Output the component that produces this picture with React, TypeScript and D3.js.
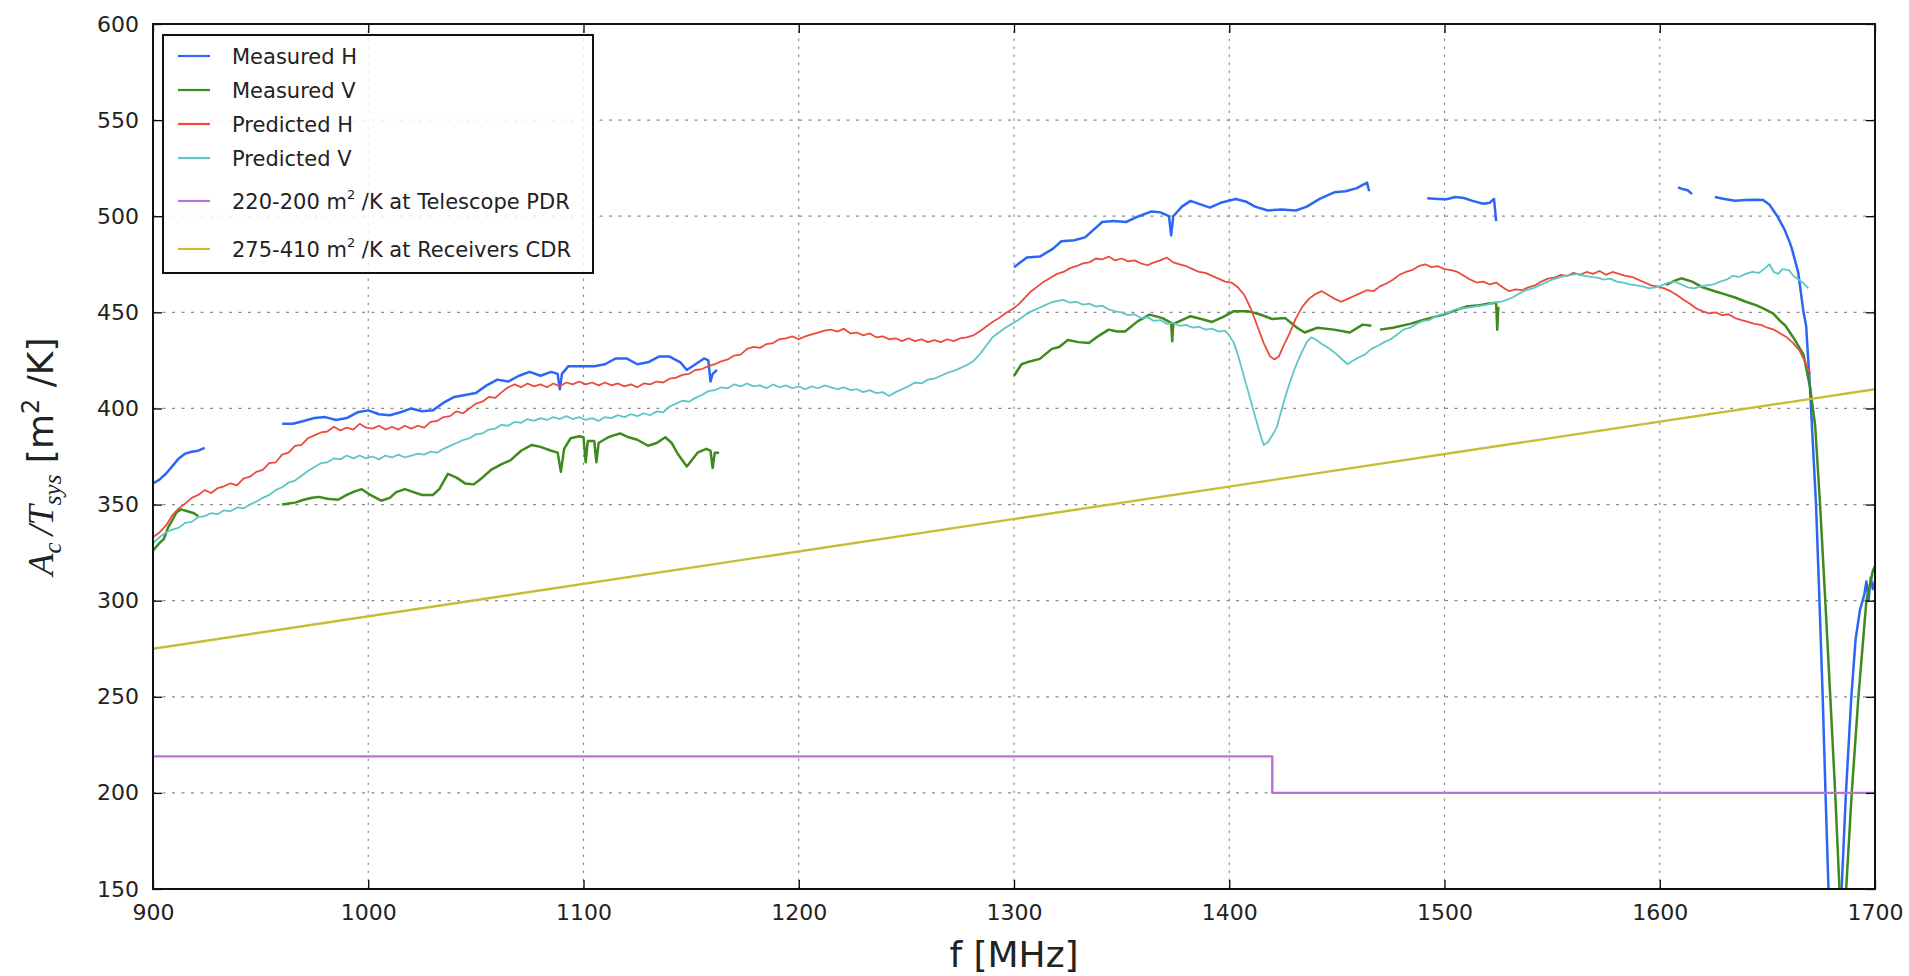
import React, { useEffect, useRef } from 'react';
import * as d3 from 'd3';

// tick values
const xTicks = [900, 1000, 1100, 1200, 1300, 1400, 1500, 1600, 1700];
const yTicks = [150, 200, 250, 300, 350, 400, 450, 500, 550, 600];

const measuredH = [
  [[900, 361], [903, 363], [906, 366], [909, 370], [912, 374], [915, 376.5], [918, 377.5], [921, 378], [924, 379.5]],
  [[960, 392], [965, 392], [970, 393.5], [975, 395], [980, 395.5], [985, 394], [990, 395], [995, 398], [1000, 399], [1005, 397],
   [1010, 396.5], [1015, 398], [1020, 400], [1025, 398.5], [1030, 399], [1035, 403], [1040, 406], [1045, 407], [1050, 408],
   [1055, 412], [1060, 415], [1065, 414], [1070, 417], [1075, 419], [1080, 417], [1085, 419], [1088, 418], [1089, 410],
   [1090, 418], [1093, 422], [1100, 422], [1105, 422], [1110, 423], [1115, 426], [1120, 426], [1125, 423], [1130, 424],
   [1135, 427], [1140, 427], [1145, 424], [1148, 420], [1152, 423], [1156, 426], [1158, 425], [1159, 414], [1160, 418], [1162, 420]],
  [[1300, 473.5], [1306, 478.5], [1312, 479], [1318, 483], [1322, 487], [1328, 487.5], [1333, 489], [1341, 497], [1346, 497.5],
   [1352, 497], [1358, 500], [1364, 502.5], [1368, 502], [1372, 500], [1373, 490], [1374, 500], [1378, 505], [1382, 508],
   [1387, 506], [1391, 504.5], [1396, 507], [1403, 509], [1408, 507.5], [1412, 505], [1418, 503], [1424, 503.5], [1431, 503],
   [1436, 505], [1442, 509], [1449, 512.5], [1454, 513], [1459, 514.5], [1464, 517.5], [1465, 513]],
  [[1492, 509.3], [1497, 509], [1501, 508.8], [1505, 510], [1509, 509.5], [1513, 508], [1518, 506.5], [1521, 507], [1523, 509], [1524, 497.5]],
  [[1608.5, 515], [1611, 514], [1613, 513.5], [1615, 511.5]],
  [[1625.6, 510], [1630, 509], [1635, 508], [1640, 508.5], [1645, 508.6], [1648, 508.5], [1651, 506], [1654.6, 500], [1658, 493],
   [1660.4, 486.4], [1661.4, 483], [1664.3, 470.9], [1666.8, 450], [1668, 443], [1669.8, 410.6], [1672.6, 350], [1674.2, 300],
   [1675.7, 250], [1677, 200], [1678.4, 150], [1681.5, 100], [1684.5, 150], [1686.5, 200], [1689, 250], [1691, 280], [1693, 295],
   [1695, 303], [1696, 310], [1697, 300], [1698, 312], [1699, 306], [1700, 310]]
];

// Measured V
const measuredV = [
  [[900, 326], [903, 330], [905, 332], [907, 338], [909, 342], [911, 346], [913, 347.5], [916, 346.5], [919, 345.5], [921, 344]],
  [[960, 350], [963, 350.5], [966, 351], [970, 352.5], [974, 353.5], [977, 354], [981, 353], [986, 352.5], [990, 355], [994, 357],
   [997, 358], [1001, 355], [1006, 352], [1010, 353.5], [1013, 356.5], [1017, 358], [1021, 356.5], [1025, 355], [1030, 355],
   [1033, 358], [1037, 366], [1041, 364], [1045, 361], [1049, 360.5], [1053, 364], [1057, 368], [1062, 371], [1066, 373],
   [1071, 378], [1076, 381], [1080, 380], [1085, 378], [1088, 377], [1089.5, 367], [1091, 379], [1094, 384.5], [1098, 385.5],
   [1100, 385], [1101, 372], [1102, 383], [1105, 383], [1106, 372], [1107, 382], [1111.5, 385], [1114, 386], [1117, 387],
   [1121, 385], [1125, 383.7], [1130, 380.6], [1134, 382], [1138, 385], [1141, 382], [1144, 376], [1148, 369.8], [1153, 377],
   [1157, 379], [1159, 378], [1160, 369], [1161, 377], [1163, 377]],
  [[1300, 417], [1303.5, 423], [1306, 424], [1312, 425.8], [1317.6, 431], [1321, 432], [1325, 435.6], [1330, 434.5], [1334.8, 434],
   [1339, 437.5], [1344, 441], [1348, 440], [1351.6, 440], [1357.4, 445.3], [1363, 448.8], [1369, 447], [1373, 444.5],
   [1373.5, 435], [1374, 444], [1378, 446], [1382, 448], [1387, 446.5], [1392, 445], [1397, 447.5], [1402, 450.5], [1409, 450.5],
   [1414, 449], [1420, 446.5], [1426, 447], [1431.5, 442], [1435, 439.5], [1441, 442], [1448.6, 441], [1456, 439.5], [1462, 443.6], [1466, 443]],
  [[1470, 441], [1476, 442], [1484, 444], [1490, 446], [1495, 447.5], [1500, 449], [1505, 451], [1510, 453], [1515, 453.5], [1520, 454.5],
   [1524, 455], [1524.5, 441], [1525, 453]],
  [[1603, 464.3], [1607, 466.5], [1610, 467.7], [1615, 466], [1620, 463], [1625.6, 461], [1630, 459.5], [1635, 457.7], [1640, 455.5],
   [1645, 453.6], [1648, 452], [1652.6, 449.5], [1655.9, 445.6], [1658.4, 443], [1662.1, 436.8], [1666.8, 428], [1669.9, 410.6],
   [1672.2, 391], [1674.5, 349.7], [1676.9, 300], [1679.2, 250.6], [1681.5, 200], [1683.5, 150], [1685, 110], [1686.6, 150],
   [1689.2, 200], [1692.3, 250], [1696, 300], [1698, 310], [1699, 315.6], [1700, 318]]
];

// Predicted H
const predictedH = [[
  [900, 333], [903, 335.5], [906, 339], [909, 344.5], [912, 348], [915, 350.5], [918, 353.5], [921, 355], [924, 357.5], [927, 356],
  [930, 358.5], [933, 359.5], [936, 361], [939, 360], [942, 363.5], [945, 364.5], [948, 367], [951, 368], [954, 371.5], [957, 372],
  [960, 376], [963, 377], [966, 380.5], [969, 381], [972, 384.5], [975, 386], [978, 387.5], [981, 388], [984, 390.5], [987, 388.5],
  [990, 390], [993, 389], [996, 392], [999, 390], [1002, 389.5], [1005, 391], [1008, 389], [1011, 390.5], [1014, 389], [1017, 391],
  [1020, 389.5], [1023, 391], [1026, 390], [1029, 393], [1032, 393.5], [1035, 395.5], [1038, 396], [1041, 398.5], [1044, 397.5],
  [1047, 400], [1050, 402.5], [1053, 403.5], [1056, 406], [1059, 405.5], [1062, 408.5], [1065, 411], [1068, 412.5], [1071, 411],
  [1074, 413], [1077, 411.5], [1080, 412.5], [1083, 411], [1086, 413], [1089, 411.5], [1092, 413.5], [1095, 412.5], [1098, 414],
  [1101, 412.5], [1104, 413.5], [1107, 412], [1110, 413.5], [1113, 412], [1116, 413], [1119, 411.5], [1122, 412.5], [1125, 411],
  [1128, 413], [1131, 412.5], [1134, 414], [1137, 413.5], [1140, 415.5], [1143, 416], [1146, 417.5], [1149, 418], [1152, 420],
  [1155, 420.5], [1158, 422], [1161, 423], [1164, 424.5], [1167, 425.5], [1170, 427.5], [1173, 428], [1176, 431], [1179, 432],
  [1182, 431.5], [1185, 433.5], [1188, 434], [1191, 436], [1194, 436.5], [1197, 437.5], [1200, 436], [1203, 437.5], [1206, 438.5],
  [1209, 439.5], [1212, 440.5], [1215, 441], [1218, 440], [1221, 441.5], [1224, 439], [1227, 439.5], [1230, 438], [1233, 439],
  [1236, 437], [1239, 437.5], [1242, 436], [1245, 436.5], [1248, 435], [1251, 436.5], [1254, 435], [1257, 436], [1260, 434.5],
  [1263, 435.5], [1266, 434.5], [1269, 436], [1272, 435], [1275, 436.5], [1278, 437], [1281, 438], [1284, 440], [1287, 442.5],
  [1290, 445], [1293, 447], [1296, 449.5], [1299, 451.5], [1302, 454], [1305, 457.5], [1308, 461], [1311, 463.5], [1314, 466],
  [1317, 468], [1320, 470], [1323, 471], [1326, 473], [1329, 474], [1332, 475.5], [1335, 476], [1338, 478], [1341, 477.5],
  [1344, 479], [1347, 477], [1350, 478], [1353, 476.5], [1356, 477], [1359, 475.5], [1362, 474.5], [1365, 476], [1368, 477],
  [1371, 478.5], [1374, 476], [1377, 475], [1380, 474], [1383, 472.5], [1386, 471], [1389, 470.5], [1392, 469], [1395, 467.5],
  [1398, 466], [1401, 465.5], [1404, 463], [1407, 459], [1410, 452], [1413, 443], [1416, 434], [1419, 427], [1421, 425.5],
  [1423, 427], [1425, 432], [1428, 439], [1431, 447], [1434, 453], [1437, 457], [1440, 459.5], [1443, 461], [1446, 459],
  [1449, 457], [1452, 455.5], [1455, 457], [1458, 458.5], [1461, 460], [1464, 461.5], [1467, 461], [1470, 463.5], [1473, 465],
  [1476, 467], [1479, 469.5], [1482, 471], [1485, 472], [1488, 474], [1491, 475], [1494, 473.5], [1497, 474], [1500, 472.5],
  [1503, 472], [1506, 471], [1509, 469], [1512, 467], [1515, 465.5], [1518, 466], [1521, 464.5], [1524, 465.5], [1527, 463],
  [1530, 461], [1533, 462], [1536, 461.5], [1539, 463], [1542, 464], [1545, 466], [1548, 467.5], [1551, 468], [1554, 469.5],
  [1557, 469], [1560, 470.5], [1563, 469.5], [1566, 471], [1569, 470], [1572, 471.5], [1575, 469.5], [1578, 471], [1581, 470],
  [1584, 469], [1587, 468.5], [1590, 467], [1593, 465.5], [1596, 464], [1599, 463.5], [1602, 462.5], [1605, 461], [1608, 459],
  [1611, 456.5], [1614, 454.5], [1617, 452], [1620, 450.5], [1623, 449.5], [1626, 450], [1629, 448.5], [1632, 449], [1635, 447],
  [1638, 446], [1641, 445], [1644, 444], [1647, 443.5], [1650, 442], [1653, 441], [1656, 439], [1659, 437], [1662, 434],
  [1665, 430], [1668, 423], [1670, 418]
]];

// Predicted V
const predictedV = [[
  [900, 330], [903, 333], [906, 335.5], [909, 337], [912, 338], [915, 340.5], [918, 341], [921, 343.5], [924, 344], [927, 345.5],
  [930, 345], [933, 347], [936, 346.5], [939, 348.5], [942, 348], [945, 350], [948, 351.5], [951, 353.5], [954, 355], [957, 357.5],
  [960, 359], [963, 361.5], [966, 362.5], [969, 365], [972, 367.5], [975, 369.5], [978, 371.5], [981, 372], [984, 374], [987, 373.5],
  [990, 375.5], [993, 374], [996, 375.5], [999, 374], [1002, 375], [1005, 373.5], [1008, 375.5], [1011, 374.5], [1014, 376],
  [1017, 374.5], [1020, 375.5], [1023, 376.5], [1026, 376], [1029, 377.5], [1032, 377], [1035, 379], [1038, 380.5], [1041, 382],
  [1044, 383.5], [1047, 384.5], [1050, 386.5], [1053, 387], [1056, 389], [1059, 389.5], [1062, 391.5], [1065, 391], [1068, 393],
  [1071, 392.5], [1074, 394.5], [1077, 393.5], [1080, 395], [1083, 394], [1086, 395.5], [1089, 394.5], [1092, 396], [1095, 394.5],
  [1098, 395.5], [1101, 394], [1104, 395], [1107, 393.5], [1110, 395.5], [1113, 395], [1116, 396.5], [1119, 395.5], [1122, 397],
  [1125, 396], [1128, 397.5], [1131, 396.5], [1134, 398.5], [1137, 398], [1140, 401], [1143, 402.5], [1146, 404], [1149, 403.5],
  [1152, 405.5], [1155, 407], [1158, 409], [1161, 409.5], [1164, 411], [1167, 410.5], [1170, 412.5], [1173, 411.5], [1176, 413],
  [1179, 411.5], [1182, 412], [1185, 410.5], [1188, 412.5], [1191, 411], [1194, 412], [1197, 410.5], [1200, 411.5], [1203, 410],
  [1206, 411.5], [1209, 410.5], [1212, 412], [1215, 411], [1218, 410], [1221, 411], [1224, 409.5], [1227, 410], [1230, 408.5],
  [1233, 409.5], [1236, 408], [1239, 408.5], [1242, 406.5], [1245, 408.5], [1248, 410], [1251, 411.5], [1254, 413.5], [1257, 413],
  [1260, 415], [1263, 415.5], [1266, 417], [1269, 418.5], [1272, 419.5], [1275, 421], [1278, 422.5], [1281, 424.5], [1284, 428],
  [1287, 432.5], [1290, 437], [1293, 439.5], [1296, 442], [1299, 444], [1302, 446], [1305, 448.5], [1308, 450.5], [1311, 452],
  [1314, 453.5], [1317, 455], [1320, 456], [1323, 456.5], [1326, 455], [1329, 455.5], [1332, 454], [1335, 454.5], [1338, 453],
  [1341, 453.5], [1344, 451.5], [1347, 450.5], [1350, 450], [1353, 448.5], [1356, 449], [1359, 447], [1362, 447.5], [1365, 445.5],
  [1368, 446], [1371, 444], [1374, 444.5], [1377, 443], [1380, 443.5], [1383, 442], [1386, 442.5], [1389, 441], [1392, 441.5],
  [1395, 440], [1398, 440.5], [1400, 438], [1402, 434.5], [1404, 428], [1406, 420], [1408, 412], [1410, 404], [1412, 396],
  [1414, 388], [1416, 381], [1418, 382.5], [1420, 386], [1422, 390], [1424, 398], [1426, 406], [1428, 413], [1430, 419.5],
  [1432, 425], [1434, 430], [1436, 434.5], [1438, 437], [1440, 436], [1443, 433.5], [1446, 431.5], [1449, 429], [1452, 426],
  [1455, 423], [1457, 424.5], [1460, 426.5], [1463, 428], [1466, 431], [1469, 432.5], [1472, 434.5], [1475, 436], [1478, 438.5],
  [1481, 441], [1484, 442], [1487, 444], [1490, 445.5], [1493, 446], [1496, 448], [1499, 449], [1502, 450], [1505, 451.5],
  [1508, 452], [1511, 452.5], [1514, 453], [1517, 453.5], [1520, 454], [1523, 455], [1526, 455.5], [1529, 456.5], [1532, 458],
  [1535, 460], [1538, 461.5], [1541, 462.5], [1544, 464], [1547, 465.5], [1550, 467], [1553, 468], [1556, 469], [1559, 469.5],
  [1562, 470], [1565, 469], [1568, 468.5], [1571, 468], [1574, 467], [1577, 467.5], [1580, 466], [1583, 465.5], [1586, 464.5],
  [1589, 464], [1592, 463.5], [1595, 462.5], [1598, 463], [1601, 464], [1604, 465.5], [1607, 466], [1610, 464.5], [1613, 463],
  [1616, 462.5], [1619, 463.5], [1622, 464], [1625, 464.5], [1628, 466], [1631, 467], [1634, 469], [1637, 468.5], [1640, 470],
  [1643, 471], [1646, 470.5], [1649, 473], [1651, 475], [1653, 471], [1655, 470], [1657, 472.5], [1660, 472], [1662, 469],
  [1664, 467.5], [1667, 465], [1669, 462.5]
]];

// requirement lines
const telescopePDR = [[[900, 219], [1420, 219], [1420, 200], [1700, 200]]];
const receiversCDR = [[[900, 275], [1700, 410]]];

const series = [
  { label: 'Measured H', color: '#2b66f6', width: 2.5, data: measuredH },
  { label: 'Measured V', color: '#3f8a1d', width: 2.5, data: measuredV },
  { label: 'Predicted H', color: '#ea4b3f', width: 1.8, data: predictedH },
  { label: 'Predicted V', color: '#5ec6c6', width: 1.8, data: predictedV },
  { label: ['220-200 m', '2', ' /K at Telescope PDR'], color: '#bd6fd8', width: 2.4, data: telescopePDR },
  { label: ['275-410 m', '2', ' /K at Receivers CDR'], color: '#c6bd36', width: 2.4, data: receiversCDR },
];

export default function App() {
  const chartRef = useRef<SVGSVGElement>(null);

  useEffect(() => {
    const svg = d3.select(chartRef.current);
    svg.selectAll('*').remove();

    const margin = { top: 24, right: 34, bottom: 87, left: 153 };
    const W = 1909, H = 976;
    const x = d3.scaleLinear().domain([900, 1700]).range([margin.left, W - margin.right]);
    const y = d3.scaleLinear().domain([150, 600]).range([H - margin.bottom, margin.top]);
    const font = 'DejaVu Sans, Verdana, sans-serif';

    svg.append('rect').attr('width', W).attr('height', H).attr('fill', '#fff');

    // grid
    const grid = svg.append('g').attr('stroke', '#8c8c8c').attr('stroke-width', 1.2);
    grid.selectAll('line.v').data(xTicks).join('line')
      .attr('x1', d => x(d)).attr('x2', d => x(d))
      .attr('y1', y(150)).attr('y2', y(600))
      .attr('stroke-dasharray', '2.5 5.5');
    grid.selectAll('line.h').data(yTicks).join('line')
      .attr('x1', x(900)).attr('x2', x(1700))
      .attr('y1', d => y(d)).attr('y2', d => y(d))
      .attr('stroke-dasharray', '3 6.5');

    // lines
    svg.append('clipPath').attr('id', 'plotclip')
      .append('rect')
      .attr('x', x(900)).attr('y', y(600))
      .attr('width', x(1700) - x(900)).attr('height', y(150) - y(600));

    const line = d3.line<number[]>().x(d => x(d[0])).y(d => y(d[1]));
    const plot = svg.append('g').attr('clip-path', 'url(#plotclip)');
    series.forEach(s => {
      s.data.forEach(seg => {
        plot.append('path')
          .datum(seg)
          .attr('fill', 'none')
          .attr('stroke', s.color)
          .attr('stroke-width', s.width)
          .attr('stroke-linejoin', 'round')
          .attr('d', line);
      });
    });

    // axes, ticks pointing inwards like the classic matplotlib style
    const styleAxis = (g: any) => {
      g.select('.domain').remove();
      g.selectAll('.tick line').attr('stroke', '#000').attr('stroke-width', 1.3);
      g.selectAll('.tick text').attr('fill', '#222').attr('font-family', font).attr('font-size', 22);
    };
    svg.append('g')
      .attr('transform', `translate(0,${y(150)})`)
      .call(d3.axisBottom(x).tickValues(xTicks).tickSize(-9).tickPadding(15).tickFormat(d3.format('d')))
      .call(styleAxis);
    svg.append('g')
      .attr('transform', `translate(0,${y(600)})`)
      .call(d3.axisTop(x).tickValues(xTicks).tickSize(-9).tickFormat(() => ''))
      .call(styleAxis);
    svg.append('g')
      .attr('transform', `translate(${x(900)},0)`)
      .call(d3.axisLeft(y).tickValues(yTicks).tickSize(-9).tickPadding(14).tickFormat(d3.format('d')))
      .call(styleAxis);
    svg.append('g')
      .attr('transform', `translate(${x(1700)},0)`)
      .call(d3.axisRight(y).tickValues(yTicks).tickSize(-9).tickFormat(() => ''))
      .call(styleAxis);

    // frame
    svg.append('rect')
      .attr('x', x(900)).attr('y', y(600))
      .attr('width', x(1700) - x(900)).attr('height', y(150) - y(600))
      .attr('fill', 'none').attr('stroke', '#111').attr('stroke-width', 2);

    // axis labels
    svg.append('text')
      .attr('x', (x(900) + x(1700)) / 2).attr('y', 967)
      .attr('text-anchor', 'middle')
      .attr('font-family', font).attr('font-size', 36).attr('fill', '#222')
      .text('f [MHz]');

    const yl = svg.append('text')
      .attr('transform', `translate(53,${(y(150) + y(600)) / 2}) rotate(-90)`)
      .attr('text-anchor', 'middle')
      .attr('font-family', font).attr('font-size', 36).attr('fill', '#222');
    const serif = 'Liberation Serif, DejaVu Serif, serif';
    yl.append('tspan').attr('font-family', serif).attr('font-style', 'italic').text('A');
    yl.append('tspan').attr('font-family', serif).attr('font-style', 'italic').attr('font-size', 25).attr('dy', 8).text('c');
    yl.append('tspan').attr('dy', -8).attr('font-family', serif).attr('font-style', 'italic').text('\u2009/');
    yl.append('tspan').attr('font-family', serif).attr('font-style', 'italic').text('T');
    yl.append('tspan').attr('font-family', serif).attr('font-style', 'italic').attr('font-size', 25).attr('dy', 8).text('sys');
    yl.append('tspan').attr('dy', -8).text(' [m');
    yl.append('tspan').attr('font-size', 24).attr('dy', -14).text('2');
    yl.append('tspan').attr('dy', 14).text(' /K]');

    // legend
    const lg = svg.append('g');
    lg.append('rect')
      .attr('x', 163).attr('y', 35).attr('width', 430).attr('height', 238)
      .attr('fill', '#fff').attr('fill-opacity', 0.82)
      .attr('stroke', '#111').attr('stroke-width', 2);
    const rowY = [56, 90, 124, 158, 201, 249];
    series.forEach((s, i) => {
      lg.append('line')
        .attr('x1', 178).attr('x2', 210).attr('y1', rowY[i]).attr('y2', rowY[i])
        .attr('stroke', s.color).attr('stroke-width', 2.2);
      const t = lg.append('text')
        .attr('x', 232).attr('y', rowY[i] + 8)
        .attr('font-family', font).attr('font-size', 21).attr('fill', '#222');
      if (Array.isArray(s.label)) {
        t.append('tspan').text(s.label[0]);
        t.append('tspan').attr('font-size', 13).attr('dy', -10).text(s.label[1]);
        t.append('tspan').attr('dy', 10).text(s.label[2]);
      } else {
        t.text(s.label);
      }
    });
  }, []);

  return (
    <svg ref={chartRef} width={1909} height={976}
      style={{ position: 'absolute', left: 0, top: 0, display: 'block' }} />
  );
}
